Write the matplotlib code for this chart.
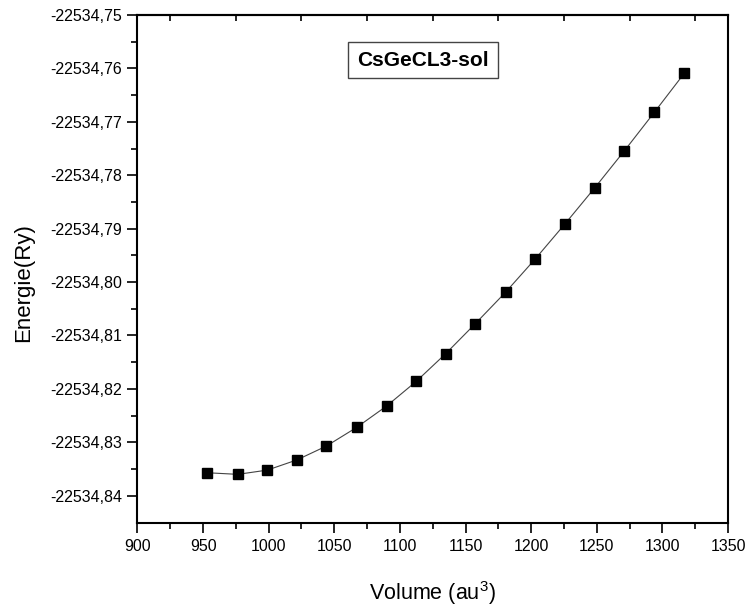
import matplotlib
matplotlib.use("Agg")
import matplotlib.pyplot as plt
from matplotlib.ticker import FixedLocator, MultipleLocator, FuncFormatter
from matplotlib.patches import Rectangle

plt.rcParams['font.family'] = ['Liberation Sans', 'DejaVu Sans']
plt.rcParams['mathtext.fontset'] = 'custom'
plt.rcParams['mathtext.rm'] = 'Liberation Sans'
plt.rcParams['mathtext.default'] = 'regular'

# volume (au^3) and total energy (Ry)
volume = [953.1, 976.5, 999.0, 1021.5, 1044.0, 1067.1, 1089.9, 1112.4, 1134.9,
          1157.4, 1180.5, 1203.0, 1225.8, 1248.3, 1271.1, 1293.9, 1316.7]
energy = [-22534.8357, -22534.8360, -22534.8352, -22534.8333, -22534.8307,
          -22534.8272, -22534.8232, -22534.8186, -22534.8134, -22534.8078,
          -22534.8019, -22534.7957, -22534.7891, -22534.7824, -22534.7754,
          -22534.7682, -22534.7609]

x_ticks = [900, 950, 1000, 1050, 1100, 1150, 1200, 1250, 1300, 1350]
y_ticks = [-22534.84, -22534.83, -22534.82, -22534.81, -22534.80,
           -22534.79, -22534.78, -22534.77, -22534.76, -22534.75]
title = "CsGeCL3-sol"

fig = plt.figure(figsize=(7.47, 6.08), dpi=100)
ax = fig.add_axes([0.184, 0.139, 0.7906, 0.8363])

ax.plot(volume, energy, color='#444444', lw=0.8, marker='s', ms=6.5,
        mfc='black', mec='black', zorder=3)

ax.set_xlim(900, 1350)
ax.set_ylim(-22534.8452, -22534.75)

ax.xaxis.set_major_locator(FixedLocator(x_ticks))
ax.xaxis.set_minor_locator(MultipleLocator(25))
ax.yaxis.set_major_locator(FixedLocator(y_ticks))
ax.yaxis.set_minor_locator(FixedLocator([v + 0.005 for v in y_ticks[:-1]]))
ax.yaxis.set_major_formatter(FuncFormatter(lambda v, p: f"{v:.2f}".replace('.', ',')))

for s in ax.spines.values():
    s.set_linewidth(1.5)

ax.tick_params(axis='both', which='major', direction='out', length=7, width=1.2,
               labelsize=11.5, pad=4)
ax.tick_params(axis='both', which='minor', direction='out', length=4, width=1.2)

# top axis: inward minor ticks only
top = ax.secondary_xaxis('top')
top.set_xticks([])
top.set_xticks([925 + 50 * i for i in range(9)], minor=True)
top.tick_params(which='minor', direction='in', length=4, width=1.2)
top.tick_params(which='major', length=0, labeltop=False)
top.spines['top'].set_linewidth(1.5)

ax.set_xlabel('Volume (au$^{3}$)', fontsize=15.5, labelpad=18)
ax.set_ylabel('Energie(Ry)', fontsize=16)
ax.yaxis.set_label_coords(-0.175, 0.473)

ax.add_patch(Rectangle((0.356, 0.8755), 0.2545, 0.0708, transform=ax.transAxes,
                       fill=False, edgecolor='#444444', lw=1.0))
ax.text(0.4835, 0.911, title, transform=ax.transAxes, fontsize=15,
        fontweight='bold', ha='center', va='center')

fig.savefig('out.png', dpi=100)
